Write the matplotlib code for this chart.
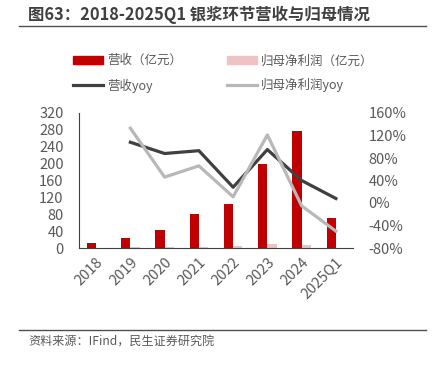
import matplotlib.pyplot as plt
from matplotlib.patches import Patch
from matplotlib.lines import Line2D
import numpy as np

plt.rcParams['font.family'] = ['Noto Sans CJK SC', 'DejaVu Sans']

# data
years = ['2018', '2019', '2020', '2021', '2022', '2023', '2024', '2025Q1']
revenue = [12, 24, 42, 80, 104, 200, 278, 72]          # 营收（亿元）
net_profit = [1, 2, 2, 3, 4, 10, 8, 1]                 # 归母净利润（亿元）
rev_yoy = [None, 108, 88, 93, 28, 95, 40, 8]           # 营收yoy (%)
np_yoy = [None, 133, 46, 66, 11, 121, -5, -50]         # 归母净利润yoy (%)

red = '#C00000'
pink = '#EDC3C3'
dark = '#404040'
grey = '#B8B8B8'
txt = '#595959'

fig = plt.figure(figsize=(4.37, 3.65), dpi=100)
ax = fig.add_axes([79/437, 1-248/365, (353-79)/437, (248-113)/365])
ax2 = ax.twinx()

x = np.arange(len(years))
w = 0.27
ax.bar(x - w/2, revenue, w, color=red, zorder=2)
ax.bar(x + w/2, net_profit, w, color=pink, zorder=2)

xs = [i for i, v in enumerate(rev_yoy) if v is not None]
ax2.plot(xs, [rev_yoy[i] for i in xs], color=dark, lw=2.3)
ax2.plot(xs, [np_yoy[i] for i in xs], color=grey, lw=2.3)

ax.set_xlim(-0.5, len(years) - 0.5)
ax.set_ylim(0, 320)
ax.set_yticks(range(0, 321, 40))
ax2.set_ylim(-80, 160)
ax2.set_yticks(range(-80, 161, 40))
ax2.set_yticklabels([f'{v}%' for v in range(-80, 161, 40)])

ax.set_xticks(x)
ax.set_xticklabels(years, rotation=45, ha='right', rotation_mode='anchor')

for a in (ax, ax2):
    for s in ('top', 'right'):
        a.spines[s].set_visible(False)
    a.tick_params(length=0, labelsize=10.5, colors=txt)
ax2.spines['left'].set_visible(False)
ax2.spines['bottom'].set_visible(False)
ax.spines['left'].set_color(dark)
ax.spines['bottom'].set_color(dark)
ax.tick_params(axis='y', pad=11)
ax.tick_params(axis='x', pad=5)
ax2.tick_params(axis='y', pad=11)

handles = [Patch(color=red), Line2D([], [], color=dark, lw=2.3),
           Patch(color=pink), Line2D([], [], color=grey, lw=2.3)]
labels = ['营收（亿元）', '营收yoy', '归母净利润（亿元）', '归母净利润yoy']
leg = fig.legend(handles, labels, ncol=2, loc='upper left',
                 bbox_to_anchor=(62/437, 1-43/365), frameon=False,
                 fontsize=9, handlelength=2.4, handletextpad=0.3,
                 columnspacing=3.6, labelspacing=0.9)
for t in leg.get_texts():
    t.set_color(txt)

fig.text(28/437, 1-15/365, '图63：2018-2025Q1 银浆环节营收与归母情况',
         fontsize=11.8, fontweight='bold', color='#404040', va='center')
fig.add_artist(Line2D([19/437, 426/437], [1-26/365, 1-26/365], color='#505050', lw=1))
fig.add_artist(Line2D([19/437, 426/437], [1-330/365, 1-330/365], color='#505050', lw=1))
fig.text(28/437, 1-342/365, '资料来源：IFind，民生证券研究院',
         fontsize=8.7, color=txt, va='center')

fig.savefig('out.png', dpi=100)
